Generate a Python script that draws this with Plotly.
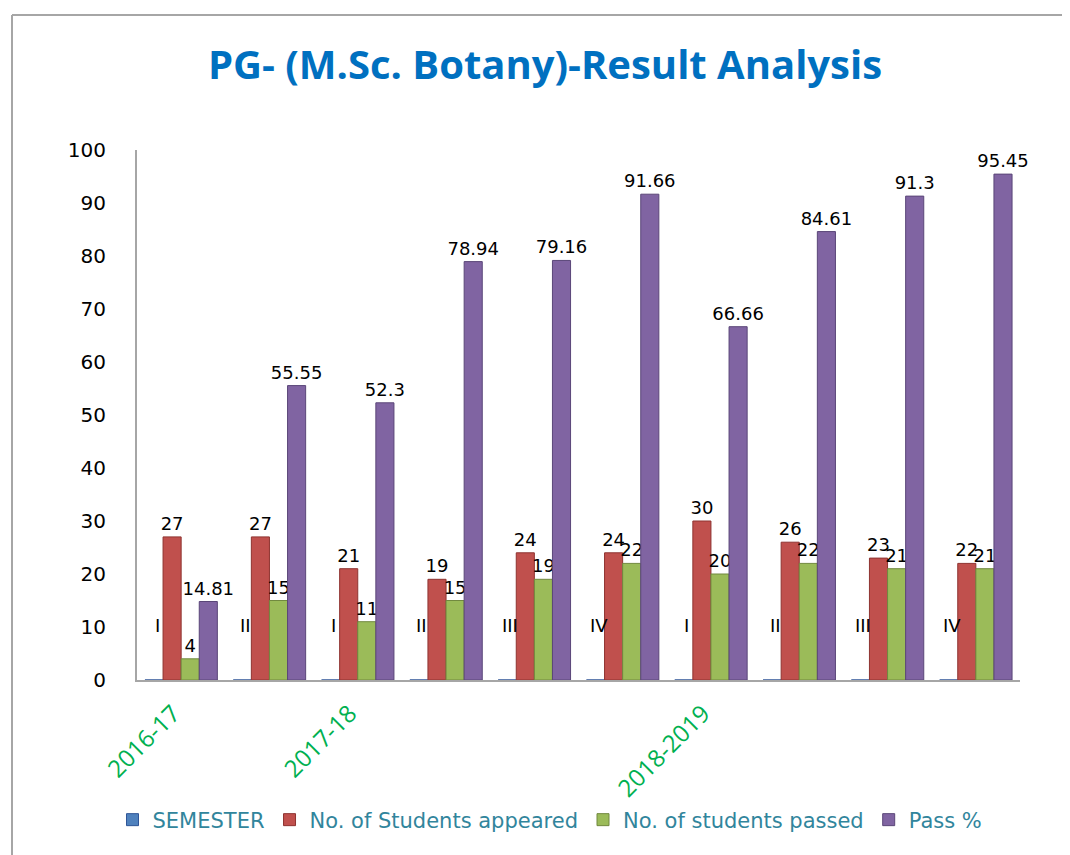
import plotly.graph_objects as go

semesters = ["I", "II", "I", "II", "III", "IV", "I", "II", "III", "IV"]
years = ["2016-17", "2017-18", "2018-2019"]
year_start_idx = [0, 2, 6]
semester_vals = [0, 0, 0, 0, 0, 0, 0, 0, 0, 0]
appeared = [27, 27, 21, 19, 24, 24, 30, 26, 23, 22]
passed = [4, 15, 11, 15, 19, 22, 20, 22, 21, 21]
pass_pct = [14.81, 55.55, 52.3, 78.94, 79.16, 91.66, 66.66, 84.61, 91.3, 95.45]

series_names = ["SEMESTER", "No. of Students appeared", "No. of students passed", "Pass %"]
colors = ["#4F81BD", "#C0504D", "#9BBB59", "#8064A2"]
edge_colors = ["#2F5597", "#8E3330", "#71893F", "#5A4678"]

x = list(range(len(semesters)))
W, H = 1070, 855
OFF = 8  # page body offset
ml, mr, mt, mb = 137 - OFF, 58, 150 - OFF, 183
bargap = 0.18

fig = go.Figure()
all_vals = [semester_vals, appeared, passed, pass_pct]
for i, (name, vals) in enumerate(zip(series_names, all_vals)):
    fig.add_trace(go.Bar(
        x=x, y=vals, name=name,
        marker=dict(color=colors[i], line=dict(color=edge_colors[i], width=1)),
        text=None if i == 0 else [f"{v:g}" for v in vals],
        textposition="outside",
        constraintext="none",
        cliponaxis=False,
        textfont=dict(family="DejaVu Sans", size=18, color="#000000"),
    ))

# semester labels above the blue (zero-height) bars
bw = (1 - bargap) / 4
for xi, s in zip(x, semesters):
    fig.add_annotation(x=xi - 1.5 * bw, y=0, xref="x", yref="y", text=s,
                       showarrow=False, yshift=55, xshift=3,
                       font=dict(family="DejaVu Sans", size=18, color="#000000"))

pw = W - ml - mr
ph = H - mt - mb
top_px = 15 - OFF
left_px = 12 - OFF
fig.add_shape(type="line", xref="paper", yref="paper",
              x0=(left_px - ml) / pw, x1=(W + 5 - ml) / pw,
              y0=(H - mb - top_px) / ph, y1=(H - mb - top_px) / ph,
              line=dict(color="#A6A6A6", width=2))
fig.add_shape(type="line", xref="paper", yref="paper",
              x0=(left_px - ml) / pw, x1=(left_px - ml) / pw,
              y0=(H - mb - top_px) / ph, y1=-(mb + 5) / ph,
              line=dict(color="#A6A6A6", width=2))

fig.update_layout(
    width=W, height=H,
    margin=dict(l=ml, r=mr, t=mt, b=mb),
    paper_bgcolor="white", plot_bgcolor="white",
    barmode="group", bargap=bargap, bargroupgap=0,
    title=dict(text="<b>PG- (M.Sc. Botany)-Result Analysis</b>",
               x=(545 - OFF) / W, xanchor="center", y=1 - (65 - OFF) / H, yanchor="middle",
               font=dict(family="Open Sans", size=40, color="#0070C0")),
    xaxis=dict(range=[-0.5, len(x) - 0.5],
               tickvals=year_start_idx, ticktext=years, tickangle=-45,
               tickfont=dict(family="Open Sans", size=24, color="#00B050"),
               showline=True, linecolor="#A6A6A6", linewidth=2,
               showgrid=False, zeroline=False, ticks="",
               ticklabelshift=-8, ticklabelstandoff=8),
    yaxis=dict(range=[0, 100], dtick=10, showgrid=False, zeroline=False,
               showline=True, linecolor="#A6A6A6", linewidth=2,
               ticks="", ticklabelstandoff=25,
               tickfont=dict(family="DejaVu Sans", size=20, color="#000000")),
    legend=dict(orientation="h", x=(550 - OFF - ml) / pw, xanchor="center",
                y=-(820 - OFF - (H - mb)) / ph, yanchor="middle",
                font=dict(family="DejaVu Sans", size=21, color="#31859C"),
                itemwidth=30, traceorder="normal"),
    showlegend=True,
)

fig.write_html("out.html")
